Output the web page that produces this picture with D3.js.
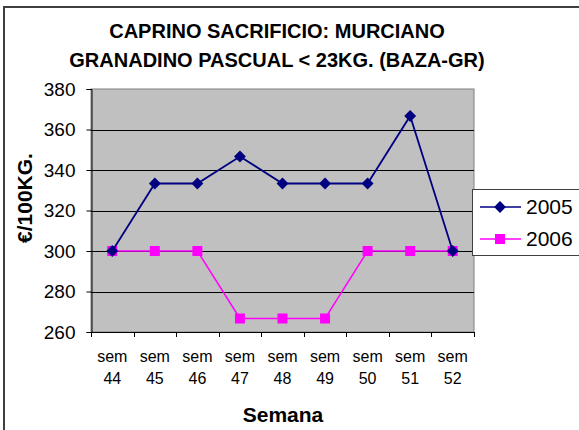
<!DOCTYPE html>
<html>
<head>
<meta charset="utf-8">
<title>Caprino sacrificio</title>
<script src="https://cdn.jsdelivr.net/npm/d3@7"></script>
<style>
	html, body {margin: 0; padding: 0; background: #fff; overflow: hidden}
	text {font-family: "Liberation Sans", Arial, sans-serif; fill: #000}
	.title {font-weight: bold; font-size: 20px}
	.axisTitle {font-weight: bold; font-size: 21px}
	.tickLabel {font-size: 16px}
	.grid line {stroke: #000; stroke-width: 1}
</style>
</head>
<body>
<script>
	var weeks = ["sem 44", "sem 45", "sem 46", "sem 47", "sem 48", "sem 49", "sem 50", "sem 51", "sem 52"];
	var values2005 = [300, 333.33, 333.33, 346.67, 333.33, 333.33, 333.33, 366.67, 300];
	var values2006 = [300, 300, 300, 266.67, 266.67, 266.67, 300, 300, 300];
	var yTicks = [260, 280, 300, 320, 340, 360, 380];
	var seriesNames = ["2005", "2006"];
	var titleLines = ["CAPRINO SACRIFICIO: MURCIANO", "GRANADINO PASCUAL < 23KG. (BAZA-GR)"];

	var width = 579, height = 430;
	var plot = {left: 91, top: 89, right: 474, bottom: 332};

	var svg = d3.select("body").append("svg")
		.attr("width", width)
		.attr("height", height);

	// outer chart frame (runs off the right and bottom edges)
	svg.append("rect")
		.attr("x", 4).attr("y", 7)
		.attr("width", 640).attr("height", 480)
		.attr("fill", "#fff")
		.attr("stroke", "#404040")
		.attr("stroke-width", 2);

	svg.selectAll(".title")
		.data(titleLines)
		.enter().append("text")
		.attr("class", "title")
		.attr("x", 277)
		.attr("y", function(d, i){ return 38 + i * 29; })
		.attr("text-anchor", "middle")
		.text(function(d){ return d; });

	var x = d3.scaleBand()
		.domain(weeks)
		.range([plot.left, plot.right])
		.padding(0);

	var y = d3.scaleLinear()
		.domain([260, 380])
		.range([plot.bottom, plot.top]);

	svg.append("rect")
		.attr("x", plot.left).attr("y", plot.top)
		.attr("width", plot.right - plot.left)
		.attr("height", plot.bottom - plot.top)
		.attr("fill", "#c0c0c0")
		.attr("stroke", "#808080")
		.attr("stroke-width", 1);

	svg.append("g")
		.attr("class", "grid")
		.selectAll("line")
		.data(yTicks.slice(1, -1))
		.enter().append("line")
		.attr("x1", plot.left).attr("x2", plot.right)
		.attr("y1", function(d){ return Math.round(y(d)) + 0.5; })
		.attr("y2", function(d){ return Math.round(y(d)) + 0.5; });

	// y axis
	var yAxis = svg.append("g")
		.attr("transform", "translate(" + (plot.left + 0.5) + ",0)")
		.call(d3.axisLeft(y).tickValues(yTicks).tickSize(5).tickPadding(11));
	yAxis.select(".domain").attr("stroke", "#000");
	yAxis.selectAll(".tick line").attr("stroke", "#000");
	yAxis.selectAll(".tick text")
		.style("font-size", "19px")
		.attr("fill", "#000")
		.attr("font-family", null);

	// x axis: ticks between categories
	var xg = svg.append("g");
	xg.append("line")
		.attr("x1", plot.left).attr("x2", plot.right)
		.attr("y1", plot.bottom + 0.5).attr("y2", plot.bottom + 0.5)
		.attr("stroke", "#000");
	var bounds = weeks.map(function(w){ return x(w); }).concat([plot.right]);
	xg.selectAll(".xtick")
		.data(bounds)
		.enter().append("line")
		.attr("class", "xtick")
		.attr("x1", function(d){ return Math.round(d) + 0.5; })
		.attr("x2", function(d){ return Math.round(d) + 0.5; })
		.attr("y1", plot.bottom)
		.attr("y2", plot.bottom + 5)
		.attr("stroke", "#000");
	var lbl = xg.selectAll(".xlabel")
		.data(weeks)
		.enter().append("text")
		.attr("class", "tickLabel")
		.attr("text-anchor", "middle");
	lbl.append("tspan")
		.attr("x", function(d){ return x(d) + x.bandwidth() / 2; })
		.attr("y", 362)
		.text(function(d){ return d.split(" ")[0]; });
	lbl.append("tspan")
		.attr("x", function(d){ return x(d) + x.bandwidth() / 2; })
		.attr("y", 384)
		.text(function(d){ return d.split(" ")[1]; });

	svg.append("text")
		.attr("class", "axisTitle")
		.attr("x", 283).attr("y", 422)
		.attr("text-anchor", "middle")
		.text("Semana");

	svg.append("text")
		.attr("class", "axisTitle")
		.attr("transform", "translate(32,198) rotate(-90)")
		.attr("text-anchor", "middle")
		.text("€/100KG.");

	var line = d3.line()
		.x(function(d, i){ return x(weeks[i]) + x.bandwidth() / 2; })
		.y(function(d){ return y(d); });

	var diamond = d3.symbol().type(d3.symbolDiamond2).size(90);

	function drawSeries(values, color, marker, sw){
		svg.append("path")
			.datum(values)
			.attr("fill", "none")
			.attr("stroke", color)
			.attr("stroke-width", sw)
			.attr("d", line);
		var g = svg.append("g");
		values.forEach(function(v, i){
			var cx = x(weeks[i]) + x.bandwidth() / 2, cy = y(v);
			if (marker === "diamond") {
				g.append("path")
					.attr("transform", "translate(" + cx + "," + cy + ")")
					.attr("d", diamond)
					.attr("fill", color);
			} else {
				g.append("rect")
					.attr("x", cx - 5).attr("y", cy - 5)
					.attr("width", 10).attr("height", 10)
					.attr("fill", color);
			}
		});
	}

	drawSeries(values2006, "#ff00ff", "square", 1.5);
	drawSeries(values2005, "#000080", "diamond", 1.8);

	// legend
	var legend = svg.append("g");
	legend.append("rect")
		.attr("x", 472.5).attr("y", 189.5)
		.attr("width", 120).attr("height", 66)
		.attr("fill", "#fff")
		.attr("stroke", "#404040")
		.attr("stroke-width", 1);
	var colors = ["#000080", "#ff00ff"];
	seriesNames.forEach(function(name, i){
		var cy = 207 + i * 32;
		legend.append("line")
			.attr("x1", 480).attr("x2", 521)
			.attr("y1", cy).attr("y2", cy)
			.attr("stroke", colors[i])
			.attr("stroke-width", 1.5);
		if (i === 0) {
			legend.append("path")
				.attr("transform", "translate(500," + cy + ")")
				.attr("d", diamond)
				.attr("fill", colors[i]);
		} else {
			legend.append("rect")
				.attr("x", 495).attr("y", cy - 5)
				.attr("width", 10).attr("height", 10)
				.attr("fill", colors[i]);
		}
		legend.append("text")
			.attr("x", 526).attr("y", cy + 7)
			.style("font-size", "21px")
			.text(name);
	});
</script>
</body>
</html>
